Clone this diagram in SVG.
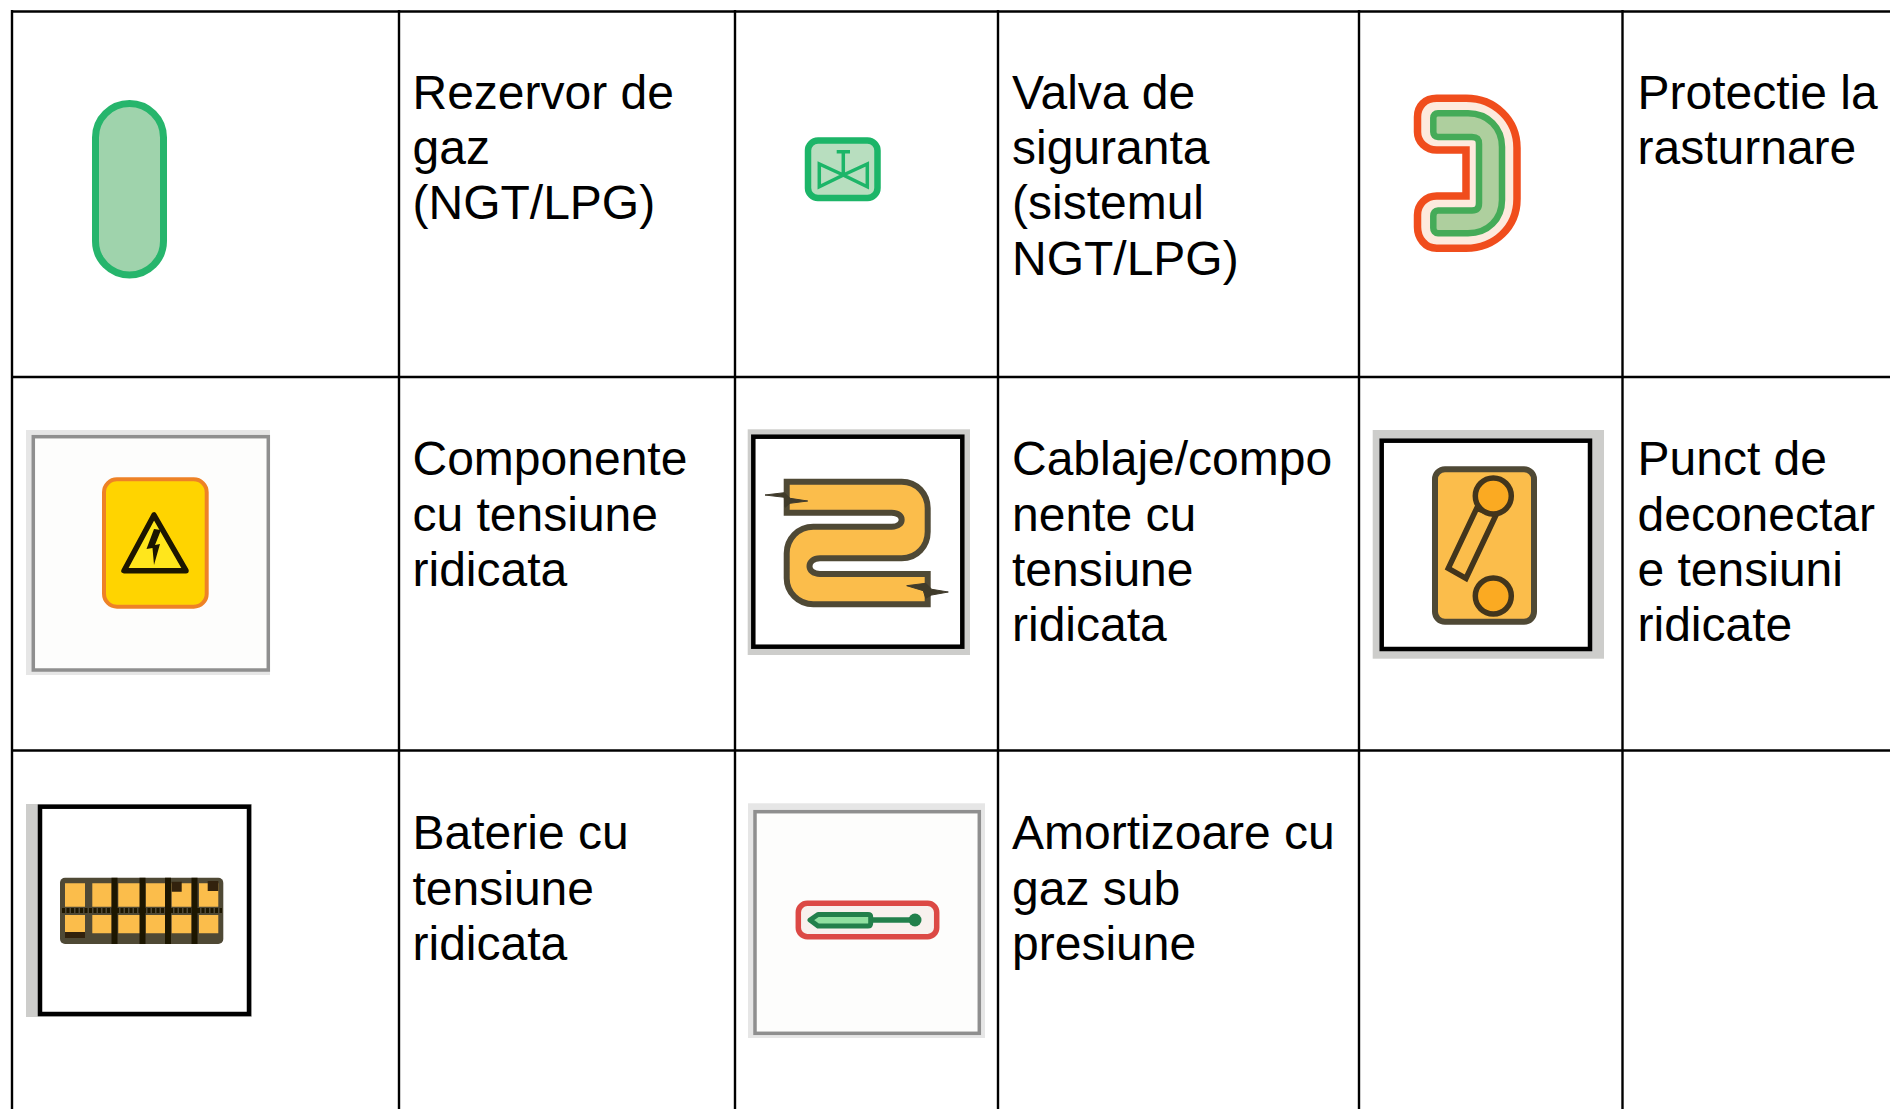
<svg xmlns="http://www.w3.org/2000/svg" width="1890" height="1109" viewBox="0 0 1890 1109">
<style>
text{font-family:"Liberation Sans",Arial,sans-serif;font-size:48px;fill:#000}
.grid line{stroke:#000;stroke-width:2.4}
.ic{filter:url(#soft)}
.frame{fill:#fff;stroke:#000;stroke-width:4.500}
.bg{fill:#cdcdcb}
.pale{fill:#fdfdfc;stroke:#8f8f8f;stroke-width:3.500}
.pbg{fill:#e6e6e6}
.amber{fill:#fbbd4c;stroke:#4f4836;stroke-width:6}
.spark{fill:#3f3a2c;stroke:#3f3a2c;stroke-width:1}
</style>
<defs><filter id="soft" x="-10%" y="-10%" width="120%" height="120%"><feGaussianBlur stdDeviation="0.75"/></filter></defs>
<rect width="1890" height="1109" fill="#fff"/>
<g id="grid" class="grid">
<line x1="11" y1="11.500" x2="1890" y2="11.500"/><line x1="11" y1="377" x2="1890" y2="377"/><line x1="11" y1="750.500" x2="1890" y2="750.500"/>
<line x1="12" y1="10" x2="12" y2="1109"/><line x1="399" y1="10" x2="399" y2="1109"/><line x1="735" y1="10" x2="735" y2="1109"/><line x1="998" y1="10" x2="998" y2="1109"/><line x1="1359" y1="10" x2="1359" y2="1109"/><line x1="1622.500" y1="10" x2="1622.500" y2="1109"/>
</g>
<g id="gas-tank"><rect class="ic" x="95.500" y="103.500" width="68" height="171.500" rx="34" fill="#9fd3ac" stroke="#26b56c" stroke-width="7"/>
<text x="412.500" y="109">Rezervor de</text><text x="412.500" y="164">gaz</text><text x="412.500" y="219">(NGT/LPG)</text></g>
<g id="safety-valve"><g class="ic"><rect x="808" y="140.500" width="69.500" height="57.500" rx="10" fill="#b8debf" stroke="#1cb568" stroke-width="6.500"/>
<path d="M843.300 175 819.300 164V186.700ZM843.300 175 867.300 164V186.700ZM843.300 175V151.700M836.700 151.700H850" fill="none" stroke="#1cb568" stroke-width="3.500"/></g>
<text x="1012" y="109">Valva de</text><text x="1012" y="164">siguranta</text><text x="1012" y="219">(sistemul</text><text x="1012" y="275">NGT/LPG)</text></g>
<g id="rollover-protection"><g class="ic"><path d="M1436.700 98.300H1466C1495 98.300 1517 120 1517 148V199C1517 227 1495 248.300 1466 248.300H1436.700C1425 248.300 1417.500 238 1417.500 227V215C1417.500 204 1426 196 1436.700 196H1466V150H1436.700C1426 150 1417.500 142 1417.500 132V117C1417.500 106 1425 98.300 1436.700 98.300Z" fill="#fdeadd" stroke="#f04e1e" stroke-width="7.500"/>
<path d="M1438 113.300H1468C1488 113.300 1502 128 1502 147V200C1502 219 1488 233.300 1468 233.300H1438C1435 233.300 1433.300 231 1433.300 228V216C1433.300 213 1435 210.500 1438 210.500H1472C1477 210.500 1479 208 1479 203V144C1479 139 1477 137 1472 137H1438C1435 137 1433.300 135 1433.300 132V118C1433.300 115 1435 113.300 1438 113.300Z" fill="#aecf9e" stroke="#44ab58" stroke-width="6.500"/></g>
<text x="1637.500" y="109">Protectie la</text><text x="1637.500" y="164">rasturnare</text></g>
<g id="hv-components"><g class="ic"><rect class="pbg" x="26" y="430" width="244" height="245"/><rect class="pale" x="33.300" y="436.700" width="235" height="233.300"/>
<rect x="104" y="479.300" width="102.700" height="127.400" rx="13" fill="#ffd400" stroke="#ee8228" stroke-width="4"/>
<path d="M154 515 124 570.700H186Z" fill="#ffe61a" stroke="#1c1400" stroke-width="5.500" stroke-linejoin="round"/>
<path d="M154 529 146.500 549 152.500 548 154 565 160 544 155 545 161 530Z" fill="#1c1400"/></g>
<text x="412.500" y="475">Componente</text><text x="412.500" y="531">cu tensiune</text><text x="412.500" y="586">ridicata</text></g>
<g id="hv-cabling"><g class="ic"><rect class="bg" x="747.700" y="429.300" width="222.300" height="225.700"/><rect class="frame" x="753.300" y="436.700" width="209" height="210"/>
<path class="amber" d="M786.700 481.700H901.700C917 481.700 927.700 494 927.700 508.300V531.700C927.700 546 917 558.300 901.700 558.300H820C806 558.300 806 574 820 574H927.700V604.300H813.300C798 604.300 786.700 592 786.700 578.300V553.300C786.700 539 798 526.700 813.300 526.700H891.700C905 526.700 905 512.700 891.700 512.700H786.700Z"/>
<path class="spark" d="M765 495 784.300 492.700 790 498.300 807.700 501 790 503.300 785 507.300 784.300 497.300Z"/>
<path class="spark" d="M906.700 585.700 925.700 583.300 931.700 589.300 948.300 592 931.700 595 925.700 598.300 923.300 590.700Z"/></g>
<text x="1012" y="475">Cablaje/compo</text><text x="1012" y="531">nente cu</text><text x="1012" y="586">tensiune</text><text x="1012" y="641">ridicata</text></g>
<g id="hv-disconnect"><g class="ic"><rect class="bg" x="1372.700" y="430" width="231.300" height="228.700"/><rect class="frame" x="1381.700" y="440.700" width="208.300" height="208.300"/>
<rect class="amber" x="1435" y="469.300" width="99" height="152.400" rx="10"/>
<path d="M1476.700 508.300 1496 515 1466 578.300 1448.300 568.300Z" fill="#fbbd4c" stroke="#43341a" stroke-width="5.500"/>
<circle cx="1493.300" cy="496" r="18" fill="#fbaa22" stroke="#43341a" stroke-width="5.500"/><circle cx="1493.300" cy="596" r="18" fill="#fbaa22" stroke="#43341a" stroke-width="5.500"/></g>
<text x="1637.500" y="475">Punct de</text><text x="1637.500" y="531">deconectar</text><text x="1637.500" y="586">e tensiuni</text><text x="1637.500" y="641">ridicate</text></g>
<g id="hv-battery"><g class="ic"><rect class="bg" x="26" y="804" width="226" height="213"/><rect class="frame" x="40" y="806.700" width="209" height="207.300"/>
<rect x="60" y="877.700" width="163.300" height="66.300" rx="5" fill="#4f4836"/>
<path d="M65 883.300H85V906.700H65ZM65 915H85V933.300H65ZM92.300 883.300H111.700V906.700H92.300ZM92.300 915H111.700V933.300H92.300ZM118.300 883.300H140V906.700H118.300ZM118.300 915H140V933.300H118.300ZM145.700 883.300H165V906.700H145.700ZM145.700 915H165V933.300H145.700ZM171.700 883.300H191.700V906.700H171.700ZM171.700 915H191.700V933.300H171.700ZM199 883.300H218.300V906.700H199ZM199 915H218.300V933.300H199Z" fill="#fbbd4c"/>
<path d="M171.700 881.700H181.700V891.700H171.700ZM207.700 881H218.300V891H207.700ZM65 932H85V938H65Z" fill="#33240a"/>
<path d="M114.500 877.700V944M142.500 877.700V944M168 877.700V944M194.500 877.700V944" stroke="#1f1400" stroke-width="6"/>
<path d="M62 910.500H222" stroke="#1f1400" stroke-width="5" stroke-dasharray="3 1.500"/></g>
<text x="412.500" y="849">Baterie cu</text><text x="412.500" y="905">tensiune</text><text x="412.500" y="960">ridicata</text></g>
<g id="gas-dampers"><g class="ic"><rect class="pbg" x="748" y="803.300" width="237" height="234.700"/><rect class="pale" x="755" y="811.700" width="224.300" height="221.600"/>
<rect x="798.300" y="903.300" width="138.400" height="33.400" rx="9" fill="#f8f1ee" stroke="#dc4a44" stroke-width="5.500"/>
<path d="M810 920 818 914.500H868Q870.700 914.500 870.700 917V923Q870.700 926 868 926H818Z" fill="#8fe0a0" stroke="#23804c" stroke-width="5" stroke-linejoin="round"/>
<path d="M870.700 920H913" stroke="#23804c" stroke-width="5.500"/><circle cx="915" cy="920" r="6.500" fill="#23804c"/></g>
<text x="1012" y="849">Amortizoare cu</text><text x="1012" y="905">gaz sub</text><text x="1012" y="960">presiune</text></g>
</svg>
